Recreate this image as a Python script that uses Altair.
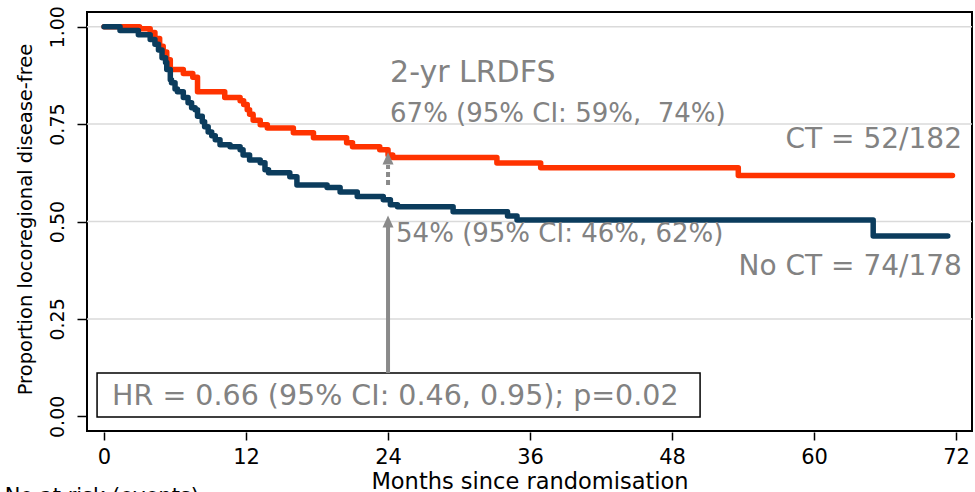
import altair as alt
import pandas as pd

# Kaplan-Meier estimates of locoregional disease-free survival (step changes)
ct_months = [0, 3.0, 3.9, 4.3, 4.7, 5.0, 5.3, 5.6, 6.7, 7.5,
             7.9, 10.2, 11.5, 11.8, 12.1, 12.3, 12.6, 13.2, 13.8, 16.0,
             17.7, 20.5, 21.0, 23.3, 24.0, 24.4, 33.2, 36.9, 53.6, 71.7]
ct_surv = [1.0, 0.995, 0.985, 0.97, 0.95, 0.935, 0.915, 0.89, 0.88, 0.87,
           0.833, 0.818, 0.81, 0.80, 0.787, 0.775, 0.76, 0.748, 0.74, 0.728,
           0.715, 0.702, 0.692, 0.684, 0.671, 0.664, 0.65, 0.638, 0.618, 0.618]

noct_months = [0, 1.35, 2.9, 3.9, 4.3, 4.6, 4.9, 5.2, 5.3, 5.6,
               5.7, 6.0, 6.2, 6.7, 7.1, 7.4, 7.7, 7.9, 8.3, 8.5,
               8.8, 9.1, 9.4, 9.8, 10.65, 11.5, 11.75, 12.3, 13.2, 13.6,
               13.9, 15.7, 16.3, 18.85, 19.95, 21.4, 23.6, 24.2, 24.8, 29.5,
               34.1, 34.9, 65.0, 71.3]
noct_surv = [1.0, 0.99, 0.979, 0.967, 0.955, 0.94, 0.92, 0.908, 0.89, 0.864,
             0.856, 0.84, 0.833, 0.818, 0.805, 0.792, 0.787, 0.77, 0.756, 0.743,
             0.73, 0.72, 0.71, 0.697, 0.692, 0.684, 0.671, 0.658, 0.651, 0.633,
             0.625, 0.615, 0.594, 0.587, 0.576, 0.564, 0.556, 0.543, 0.538, 0.525,
             0.514, 0.504, 0.463, 0.463]

x_ticks = [0, 12, 24, 36, 48, 60, 72]
y_ticks = [0.0, 0.25, 0.50, 0.75, 1.0]
grid_values = [0.25, 0.50, 0.75, 1.0]

FONT = "DejaVu Sans"
GREY = "#828282"
ARROW = "#8a8a8a"
CT_COLOR = "#ff3300"
NOCT_COLOR = "#0b3c5d"

x_scale = alt.Scale(domain=[-1.44, 73.35], nice=False, zero=False)
y_scale = alt.Scale(domain=[-0.0377, 1.0377], nice=False, zero=False)

ct = pd.DataFrame({"month": ct_months, "surv": ct_surv})
noct = pd.DataFrame({"month": noct_months, "surv": noct_surv})

x_axis = alt.Axis(values=x_ticks, grid=False, domain=False, tickColor="black",
                  tickSize=8, tickWidth=1.5, offset=1, labelFont=FONT,
                  labelFontSize=21, labelColor="black", labelBaseline="alphabetic",
                  labelPadding=23, title="Months since randomisation",
                  titleFont=FONT, titleFontSize=22.5, titleFontWeight="normal",
                  titleColor="black", titleBaseline="alphabetic",
                  titleX=442.5, titleY=56)
y_axis = alt.Axis(values=y_ticks, format=".2f", grid=False, domain=False,
                  tickColor="black", tickSize=9, tickWidth=1.5, offset=1,
                  labelAngle=270, labelAlign="center", labelBaseline="alphabetic",
                  labelPadding=14, labelFont=FONT, labelFontSize=19,
                  labelColor="black", title="Proportion locoregional disease-free",
                  titleFont=FONT, titleFontSize=19.5, titleFontWeight="normal",
                  titleColor="black", titleAngle=270, titleAlign="center",
                  titleBaseline="middle", titleX=-61, titleY=207)

grid = alt.Chart(pd.DataFrame({"g": grid_values})).mark_rule(
    color="#dadada", strokeWidth=1.5
).encode(y=alt.Y("g:Q", scale=y_scale, axis=y_axis))

def km_line(df, color):
    return alt.Chart(df).mark_line(
        interpolate="step-after", color=color, strokeWidth=5.5,
        strokeCap="round", strokeJoin="round"
    ).encode(
        x=alt.X("month:Q", scale=x_scale, axis=x_axis),
        y=alt.Y("surv:Q", scale=y_scale, axis=y_axis),
    )

ct_line = km_line(ct, CT_COLOR)
noct_line = km_line(noct, NOCT_COLOR)

# hazard ratio box
box = alt.Chart(pd.DataFrame({"x": [-0.59], "x2": [50.37], "y": [-0.002], "y2": [0.111]})).mark_rect(
    fill="white", stroke="black", strokeWidth=1.5
).encode(x=alt.X("x:Q", scale=x_scale), x2="x2:Q",
         y=alt.Y("y:Q", scale=y_scale), y2="y2:Q")

# arrows at 24 months
solid_shaft = alt.Chart(pd.DataFrame({"x": [24], "y": [0.111], "y2": [0.49]})).mark_rule(
    color=ARROW, strokeWidth=4
).encode(x=alt.X("x:Q", scale=x_scale), y=alt.Y("y:Q", scale=y_scale), y2="y2:Q")
dotted_shaft = alt.Chart(pd.DataFrame({"x": [24], "y": [0.594], "y2": [0.645]})).mark_rule(
    color=ARROW, strokeWidth=4, strokeDash=[5, 3]
).encode(x=alt.X("x:Q", scale=x_scale), y=alt.Y("y:Q", scale=y_scale), y2="y2:Q")
heads = alt.Chart(pd.DataFrame({"x": [24, 24], "y": [0.50, 0.662]})).mark_point(
    shape="M0,-1L0.9,1L-0.9,1Z", filled=True, color=ARROW, size=150, opacity=1
).encode(x=alt.X("x:Q", scale=x_scale), y=alt.Y("y:Q", scale=y_scale))

labels = pd.DataFrame({
    "text": ["2-yr LRDFS", "67% (95% CI: 59%,\u00a0 74%)", "CT = 52/182",
             "54% (95% CI: 46%, 62%)", "No CT = 74/178",
             "HR = 0.66 (95% CI: 0.46, 0.95); p=0.02"],
    "x": [24.17, 24.17, 72.5, 24.68, 72.5, 0.68],
    "y": [0.858, 0.755, 0.689, 0.448, 0.363, 0.029],
    "align": ["left", "left", "right", "left", "right", "left"],
    "size": [30, 26, 28, 26, 28, 28.5],
})

def label_layer(df, align):
    return alt.Chart(df).mark_text(
        font=FONT, color=GREY, baseline="alphabetic", align=align
    ).encode(
        x=alt.X("x:Q", scale=x_scale), y=alt.Y("y:Q", scale=y_scale),
        text="text:N", size=alt.Size("size:Q", scale=None, legend=None),
    )

left_labels = label_layer(labels[labels["align"] == "left"], "left")
right_labels = label_layer(labels[labels["align"] == "right"], "right")

risk_title = alt.Chart(pd.DataFrame({"x": [-8.4], "y": [-0.2225], "t": ["No at risk (events)"]})).mark_text(
    font=FONT, fontSize=21, color="black", baseline="alphabetic", align="left"
).encode(x=alt.X("x:Q", scale=x_scale), y=alt.Y("y:Q", scale=y_scale), text="t:N")

chart = alt.layer(
    grid, ct_line, noct_line, box, solid_shaft, dotted_shaft, heads,
    left_labels, right_labels, risk_title
).properties(
    width=885, height=419,
    padding={"left": 87, "top": 12, "right": 3, "bottom": 61},
    autosize=alt.AutoSizeParams(type="none"),
    background="white",
).configure_view(stroke="black", strokeWidth=2)

chart.save("out.html", embed_options={"renderer": "svg", "actions": False})
